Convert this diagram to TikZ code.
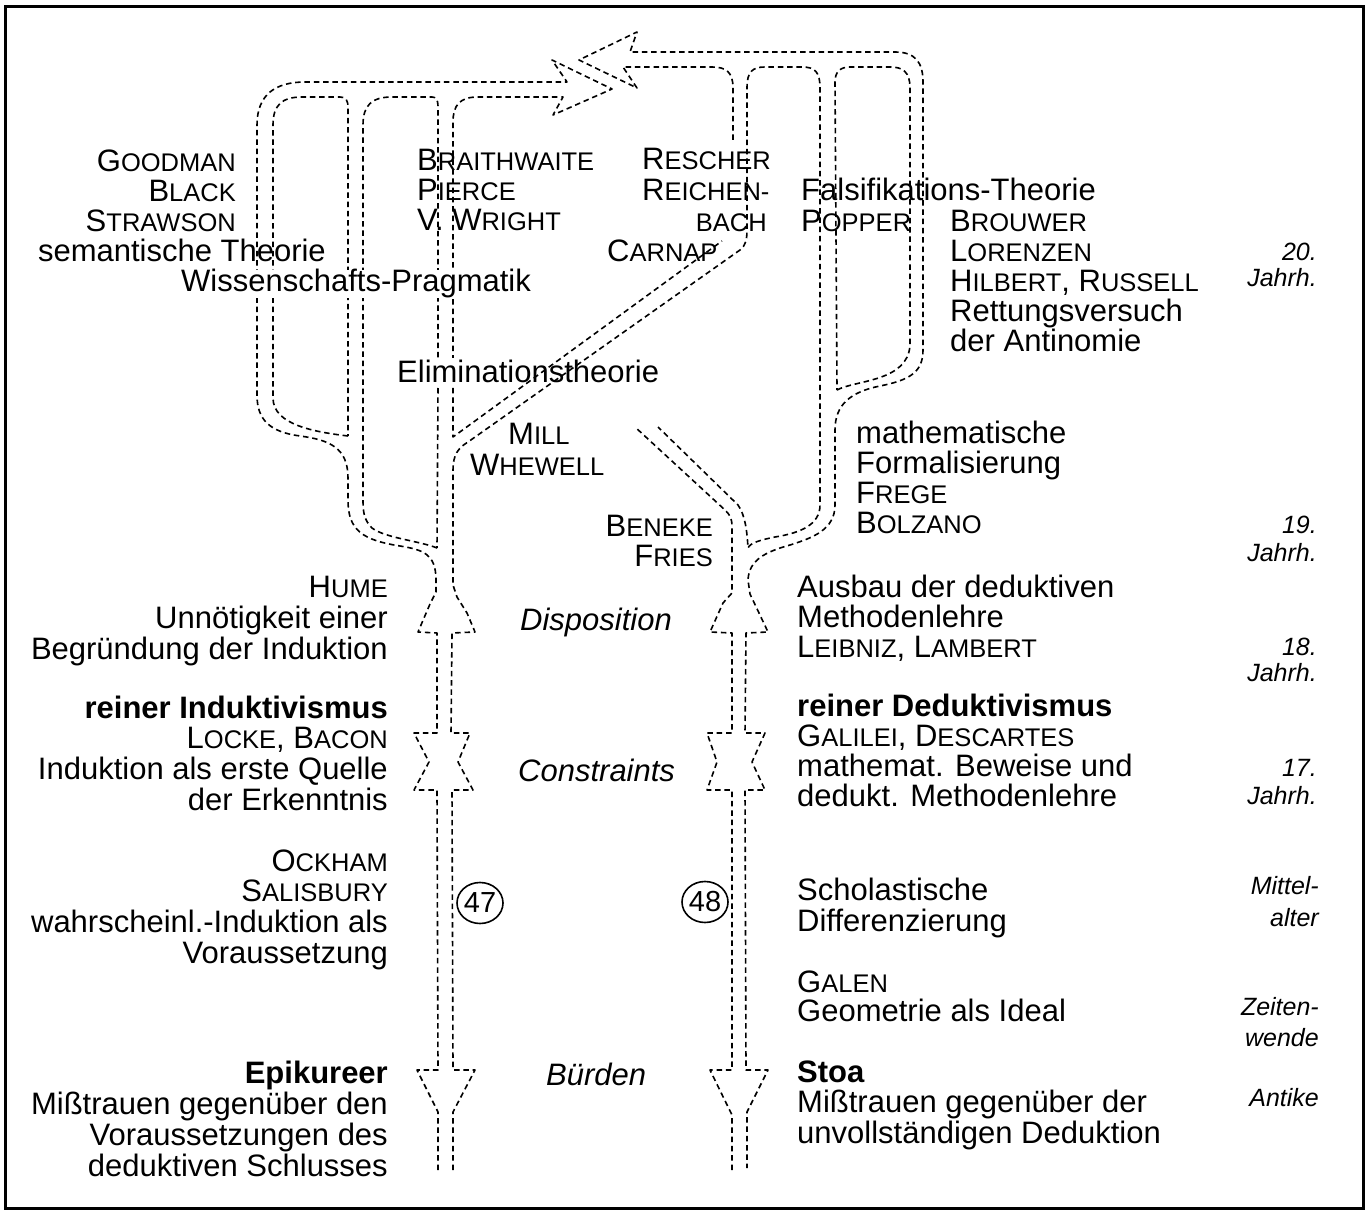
\documentclass[tikz,border=0pt]{standalone}
\usepackage{fontspec}
\setmainfont{Liberation Sans}
\usetikzlibrary{shapes.geometric}
% text sizes: regular lines, and small capitals for names
\newcommand\fm{\fontsize{31}{31}\selectfont}
\newcommand\sk[2]{#1{\fontsize{25.5}{31}\selectfont #2}}
% stacked lines with a fixed line pitch; the baseline is that of the first line
\newcommand\rb[2][30.8pt]{\vtop{\baselineskip=#1\lineskip=0pt\lineskiplimit=-40pt\halign{\hfil##\cr#2\crcr}}}
\newcommand\lb[2][30.8pt]{\vtop{\baselineskip=#1\lineskip=0pt\lineskiplimit=-40pt\halign{##\hfil\cr#2\crcr}}}
\begin{document}
\begin{tikzpicture}[x=1pt,y=-1pt,
  dl/.style={line width=1.6pt, dash pattern=on 5.5pt off 3.8pt, line join=round},
  txt/.style={inner sep=0pt, font=\fm},
  lft/.style={txt, anchor=base west},
  rgt/.style={txt, anchor=base east},
  itl/.style={inner sep=0pt, font=\fm\itshape, anchor=base west},
  per/.style={inner sep=0pt, font=\fontsize{25}{28}\selectfont\itshape, anchor=base east},
  num/.style={draw, ellipse, line width=1.6pt, minimum width=46pt, minimum height=41pt, inner sep=0pt, font=\fontsize{29}{29}\selectfont}]
\useasboundingbox (0,0) rectangle (1368,1214);
\draw[line width=3pt] (5,7) rectangle (1363,1208);

% ---- outer wall of the whole system, from the bottom left round the top to the bottom right
\draw[dl] (438,1170) -- (438,1112) -- (417,1070) -- (438,1070) -- (437,790) -- (414,790) -- (429,762) -- (414,733) -- (437,733)
  -- (437,633) -- (418,632) -- (430,604) -- (436,592) -- (436,578)
  .. controls (435,555) and (425,550) .. (400,546)
  .. controls (362,540) and (348,530) .. (348,500) -- (348,478)
  .. controls (348,448) and (330,440) .. (300,436)
  .. controls (270,432) and (257,420) .. (257,395) -- (257,125)
  .. controls (257,95) and (275,82) .. (305,82)
  -- (567,82) -- (552,60) -- (612,89) -- (553,115) -- (563,97)
  -- (478,97) .. controls (460,97) and (453,105) .. (453,122)
  -- (453,358) (453,388) -- (453,437)
  -- (722,241) (733,140) -- (733,88) .. controls (733,72) and (726,67) .. (712,67)
  -- (623,67) -- (637,88) -- (579,60) -- (637,32) -- (630,52)
  -- (895,52) .. controls (915,52) and (923,62) .. (923,82) -- (923,350)
  .. controls (923,372) and (910,380) .. (880,386)
  .. controls (850,392) and (835,405) .. (835,430) -- (835,505)
  .. controls (835,530) and (812,538) .. (790,545)
  .. controls (765,552) and (749,560) .. (748,580) -- (750,594) -- (768,632) -- (746,633)
  -- (745,733) -- (765,733) -- (752,762) -- (765,790) -- (745,790)
  -- (746,1070) -- (768,1070) -- (747,1112) -- (747,1168);

% ---- right wall of the left stream, the diagonal branch and the right branch, up to the fork
\draw[dl] (453,1170) -- (453,1112) -- (475,1070) -- (453,1070) -- (452,790) -- (473,790) -- (458,762) -- (470,733) -- (451,733)
  -- (452,633) -- (475,632) -- (467,613) -- (457,597) -- (453,585) -- (453,470)
  .. controls (453,455) and (458,448) .. (468,442) -- (740,250)
  .. controls (746,245) and (747,240) .. (747,228) -- (747,88)
  .. controls (747,72) and (752,67) .. (765,67) -- (802,67)
  .. controls (815,67) and (820,72) .. (820,88) -- (820,505)
  .. controls (820,525) and (800,533) .. (775,537)
  .. controls (760,540) and (750,543) .. (748,548)
  .. controls (747,530) and (745,515) .. (738,505) -- (658,427);

% ---- left wall of the right stream, ending in the open branch
\draw[dl] (732,1170) -- (732,1115) -- (710,1070) -- (732,1070) -- (732,790) -- (707,790) -- (717,762) -- (707,733) -- (732,733)
  -- (732,633) -- (710,632) -- (723,603) -- (732,593) -- (732,527)
  .. controls (732,518) and (730,515) .. (725,510) -- (635,427);

% ---- islands between merging branches
\draw[dl] (348,436) .. controls (315,432) and (273,425) .. (273,398) -- (273,125)
  .. controls (273,105) and (282,97) .. (302,97) -- (340,97)
  .. controls (346,97) and (348,100) .. (348,108) -- cycle;
\draw[dl] (437,548) .. controls (420,541) and (385,538) .. (372,528)
  .. controls (364,520) and (363,512) .. (363,500) -- (363,125)
  .. controls (363,105) and (372,97) .. (392,97) -- (432,97)
  .. controls (436,97) and (438,100) .. (438,106) -- (438,358) (438,388) -- (437,548);
\draw[dl] (837,390) .. controls (855,380) and (908,382) .. (910,345) -- (910,88)
  .. controls (910,72) and (903,67) .. (890,67) -- (850,67)
  .. controls (840,67) and (835,72) .. (835,82) -- cycle;

% ---- 20th century
\node[rgt] (goodman) at (236,172) {\rb[30pt]{\sk{G}{OODMAN}\cr \sk{B}{LACK}\cr \sk{S}{TRAWSON}}};
\node[rgt] (semant) at (326,262) {semantische Theorie};
\node[lft, fill=white] (wiss) at (181,292) {Wissenschafts-Pragmatik};
\node[lft] (braith) at (417,171) {\lb[30pt]{\sk{B}{RAITHWAITE}\cr \sk{P}{IERCE}\cr V.\ \sk{W}{RIGHT}}};
\node[lft] (rescher) at (642,170) {\sk{R}{ESCHER}};
\node[lft] (reichen) at (642,201) {\sk{R}{EICHEN-}};
\node[rgt] (bach) at (767,232) {{\fontsize{25.5}{31}\selectfont BACH}};
\node[lft] (carnap) at (607,262) {\sk{C}{ARNAP}};
\node[lft] (falsi) at (801,201) {Falsifikations-Theorie};
\node[lft] (popper) at (801,232) {\sk{P}{OPPER}};
\node[lft] (brouwer) at (950,232) {\lb[29.8pt]{\sk{B}{ROUWER}\cr \sk{L}{ORENZEN}\cr \sk{H}{ILBERT}, \sk{R}{USSELL}\cr Rettungsversuch\cr der Antinomie}};
\node[per] (p20) at (1317,261) {\rb[26pt]{20.\cr Jahrh.}};

% ---- 19th century
\node[lft] (elim) at (397,383) {Eliminationstheorie};
\node[lft] (mill) at (508,444) {\sk{M}{ILL}};
\node[lft] (whewell) at (470,475) {\sk{W}{HEWELL}};
\node[rgt] (beneke) at (713,536) {\rb[30pt]{\sk{B}{ENEKE}\cr \sk{F}{RIES}}};
\node[lft] (mathf) at (856,443) {\lb[30.3pt]{mathematische\cr Formalisierung\cr \sk{F}{REGE}\cr \sk{B}{OLZANO}}};
\node[per] (p19) at (1317,533) {\rb[28pt]{19.\cr Jahrh.}};

% ---- 18th century
\node[rgt] (hume) at (388,597) {\rb[31pt]{\sk{H}{UME}\cr Unnötigkeit einer\cr Begründung der Induktion}};
\node[itl] (dispo) at (520,630) {Disposition};
\node[lft] (ausbau) at (797,597) {\lb[30pt]{Ausbau der deduktiven\cr Methodenlehre\cr \sk{L}{EIBNIZ}, \sk{L}{AMBERT}}};
\node[per] (p18) at (1317,655) {\rb[26pt]{18.\cr Jahrh.}};

% ---- 17th century
\node[rgt] (indukt) at (388,718) {\rb[30.7pt]{\textbf{reiner Induktivismus}\cr \sk{L}{OCKE}, \sk{B}{ACON}\cr Induktion als erste Quelle\cr der Erkenntnis}};
\node[itl] (constr) at (518,781) {Constraints};
\node[lft] (dedukt) at (797,716) {\lb[30.3pt]{\textbf{reiner Deduktivismus}\cr \sk{G}{ALILEI}, \sk{D}{ESCARTES}\cr mathemat. Beweise und\cr dedukt. Methodenlehre}};
\node[per] (p17) at (1317,776) {\rb[28pt]{17.\cr Jahrh.}};

% ---- Middle Ages, turn of the era, antiquity
\node[rgt] (ockham) at (388,871) {\rb[30.7pt]{\sk{O}{CKHAM}\cr \sk{S}{ALISBURY}\cr wahrscheinl.-Induktion als\cr Voraussetzung}};
\node[num] (n47) at (480,903) {47};
\node[num] (n48) at (705,902) {48};
\node[lft] (schol) at (797,900) {\lb[31pt]{Scholastische\cr Differenzierung}};
\node[per] (pma) at (1319,894) {\rb[32pt]{Mittel-\cr alter}};
\node[lft] (galen) at (797,992) {\lb[29pt]{\sk{G}{ALEN}\cr Geometrie als Ideal}};
\node[per] (pzw) at (1319,1015) {\rb[31pt]{Zeiten-\cr wende}};
\node[rgt] (epik) at (388,1083) {\rb[31.3pt]{\textbf{Epikureer}\cr Mißtrauen gegenüber den\cr Voraussetzungen des\cr deduktiven Schlusses}};
\node[itl] (buerden) at (546,1085) {Bürden};
\node[lft] (stoa) at (797,1082) {\lb[30.5pt]{\textbf{Stoa}\cr Mißtrauen gegenüber der\cr unvollständigen Deduktion}};
\node[per] (pant) at (1319,1106) {Antike};
\end{tikzpicture}
\end{document}
